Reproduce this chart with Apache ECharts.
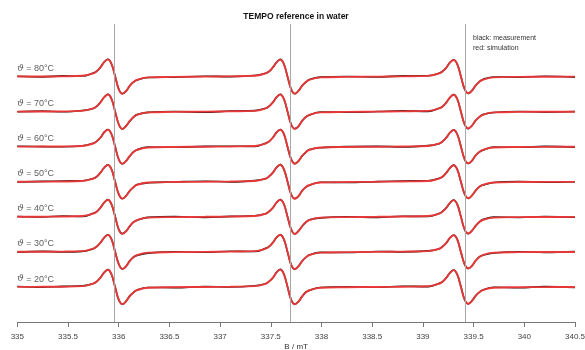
<!DOCTYPE html>
<html><head><meta charset="utf-8">
<script src="https://cdn.jsdelivr.net/npm/echarts@6/dist/echarts.min.js"></script>
<style>html,body{margin:0;padding:0;background:#fff}#c{width:585px;height:350px}</style>
</head><body><div id="c"></div>
<script>
// Magnetic field grid (mT)
const field = [
 335.0, 335.25, 335.45,
 335.641, 335.749, 335.785, 335.821, 335.857, 335.893, 335.929, 335.965, 336.001, 336.037, 336.073, 336.109, 336.145, 336.181, 336.289,
 336.55, 336.85, 337.1,
 337.341, 337.449, 337.485, 337.521, 337.557, 337.593, 337.629, 337.665, 337.701, 337.737, 337.773, 337.809, 337.845, 337.881, 337.989,
 338.25, 338.55, 338.8,
 339.051, 339.159, 339.195, 339.231, 339.267, 339.303, 339.339, 339.375, 339.411, 339.447, 339.483, 339.519, 339.555, 339.591, 339.699,
 339.95, 340.2, 340.5
];
const temperatures = [20, 30, 40, 50, 60, 70, 80];
const offsets = [0, 2, 4, 6, 8, 10, 12];
const refLines = [335.956, 337.691, 339.416];
const tickLabels = ['335','335.5','336','336.5','337','337.5','338','338.5','339','339.5','340','340.5'];

// simulations (red)
const sim20 = [0.004,0.008,0.015, 0.044,0.186,0.314,0.529,0.823,0.98,0.725,0,-0.725,-0.98,-0.823,-0.529,-0.314,-0.186,-0.044, -0.015,0,0.015,
 0.045,0.188,0.317,0.535,0.832,0.99,0.733,0,-0.733,-0.99,-0.832,-0.535,-0.317,-0.188,-0.045, -0.015,0,0.015,
 0.043,0.182,0.307,0.518,0.806,0.96,0.71,0,-0.71,-0.96,-0.806,-0.518,-0.307,-0.182,-0.043, -0.015,-0.008,-0.004];
const sim30 = [0.004,0.008,0.015, 0.044,0.184,0.31,0.524,0.815,0.97,0.718,0,-0.718,-0.97,-0.815,-0.524,-0.31,-0.184,-0.044, -0.015,0,0.015,
 0.044,0.186,0.314,0.529,0.823,0.98,0.725,0,-0.725,-0.98,-0.823,-0.529,-0.314,-0.186,-0.044, -0.015,0,0.015,
 0.043,0.18,0.304,0.513,0.798,0.95,0.703,0,-0.703,-0.95,-0.798,-0.513,-0.304,-0.18,-0.043, -0.015,-0.008,-0.004];
const sim40 = [0.004,0.008,0.015, 0.044,0.184,0.31,0.524,0.815,0.97,0.718,0,-0.718,-0.97,-0.815,-0.524,-0.31,-0.184,-0.044, -0.015,0,0.015,
 0.044,0.184,0.31,0.524,0.815,0.97,0.718,0,-0.718,-0.97,-0.815,-0.524,-0.31,-0.184,-0.044, -0.015,0,0.015,
 0.043,0.18,0.304,0.513,0.798,0.95,0.703,0,-0.703,-0.95,-0.798,-0.513,-0.304,-0.18,-0.043, -0.015,-0.008,-0.004];
const sim50 = [0.004,0.008,0.015, 0.043,0.182,0.307,0.518,0.806,0.96,0.71,0,-0.71,-0.96,-0.806,-0.518,-0.307,-0.182,-0.043, -0.015,0,0.015,
 0.044,0.184,0.31,0.524,0.815,0.97,0.718,0,-0.718,-0.97,-0.815,-0.524,-0.31,-0.184,-0.044, -0.015,0,0.015,
 0.042,0.179,0.301,0.508,0.79,0.94,0.696,0,-0.696,-0.94,-0.79,-0.508,-0.301,-0.179,-0.042, -0.015,-0.008,-0.004];
const sim60 = [0.004,0.008,0.015, 0.044,0.184,0.31,0.524,0.815,0.97,0.718,0,-0.718,-0.97,-0.815,-0.524,-0.31,-0.184,-0.044, -0.015,0,0.015,
 0.044,0.184,0.31,0.524,0.815,0.97,0.718,0,-0.718,-0.97,-0.815,-0.524,-0.31,-0.184,-0.044, -0.015,0,0.015,
 0.043,0.18,0.304,0.513,0.798,0.95,0.703,0,-0.703,-0.95,-0.798,-0.513,-0.304,-0.18,-0.043, -0.015,-0.008,-0.004];
const sim70 = [0.004,0.008,0.015, 0.044,0.186,0.314,0.529,0.823,0.98,0.725,0,-0.725,-0.98,-0.823,-0.529,-0.314,-0.186,-0.044, -0.015,0,0.015,
 0.044,0.186,0.314,0.529,0.823,0.98,0.725,0,-0.725,-0.98,-0.823,-0.529,-0.314,-0.186,-0.044, -0.015,0,0.015,
 0.043,0.182,0.307,0.518,0.806,0.96,0.71,0,-0.71,-0.96,-0.806,-0.518,-0.307,-0.182,-0.043, -0.015,-0.008,-0.004];
const sim80 = [0.004,0.008,0.015, 0.044,0.186,0.314,0.529,0.823,0.98,0.725,0,-0.725,-0.98,-0.823,-0.529,-0.314,-0.186,-0.044, -0.015,0,0.015,
 0.044,0.184,0.31,0.524,0.815,0.97,0.718,0,-0.718,-0.97,-0.815,-0.524,-0.31,-0.184,-0.044, -0.015,0,0.015,
 0.043,0.18,0.304,0.513,0.798,0.95,0.703,0,-0.703,-0.95,-0.798,-0.513,-0.304,-0.18,-0.043, -0.015,-0.008,-0.004];

// measurements (black)
const meas20 = [0.025,-0.015,0.035, 0.06,0.20,0.32,0.54,0.83,0.99,0.71,-0.02,-0.74,-0.99,-0.81,-0.51,-0.32,-0.17,-0.03, -0.04,0.02,-0.005,
 0.065,0.18,0.33,0.53,0.84,1.00,0.74,0.01,-0.74,-0.98,-0.84,-0.55,-0.30,-0.20,-0.03, 0.01,-0.02,0.04,
 0.02,0.20,0.30,0.53,0.81,0.97,0.70,0.02,-0.72,-0.97,-0.79,-0.51,-0.31,-0.17,-0.02, -0.045,0.02,-0.03];
const meas30 = [-0.02,0.03,0.0, 0.03,0.18,0.32,0.53,0.81,0.98,0.73,0.01,-0.70,-0.98,-0.83,-0.51,-0.30,-0.20,-0.07, 0.005,-0.025,0.04,
 0.02,0.20,0.31,0.54,0.83,0.97,0.71,-0.01,-0.74,-0.99,-0.81,-0.53,-0.32,-0.17,-0.03, -0.035,0.025,0.00,
 0.06,0.17,0.31,0.51,0.80,0.96,0.71,-0.02,-0.70,-0.94,-0.80,-0.51,-0.29,-0.19,-0.06, 0.01,-0.03,0.015];
const meas40 = [0.015,-0.01,0.04, 0.02,0.20,0.30,0.53,0.82,0.98,0.71,0.02,-0.73,-0.96,-0.82,-0.54,-0.30,-0.20,-0.03, 0.015,-0.03,0.025,
 0.06,0.17,0.32,0.52,0.82,0.98,0.73,0.00,-0.71,-0.98,-0.80,-0.54,-0.32,-0.17,-0.06, 0.005,-0.035,0.035,
 0.02,0.19,0.32,0.52,0.79,0.96,0.71,0.01,-0.72,-0.96,-0.79,-0.53,-0.30,-0.16,-0.02, -0.035,0.01,-0.025];
const meas50 = [-0.015,0.02,0.045, 0.06,0.19,0.30,0.53,0.80,0.97,0.72,-0.01,-0.72,-0.97,-0.80,-0.51,-0.32,-0.16,-0.06, -0.01,0.03,-0.005,
 0.065,0.17,0.32,0.53,0.82,0.98,0.71,0.02,-0.73,-0.96,-0.83,-0.51,-0.31,-0.20,-0.03, -0.045,0.01,0.045,
 0.055,0.20,0.29,0.52,0.78,0.95,0.70,-0.01,-0.70,-0.95,-0.78,-0.52,-0.29,-0.19,-0.04, 0.015,-0.025,0.005];
const meas60 = [0.025,0.005,-0.005, 0.05,0.20,0.32,0.52,0.83,0.98,0.71,0.01,-0.73,-0.98,-0.81,-0.54,-0.30,-0.17,-0.02, -0.035,0.02,0.025,
 0.02,0.20,0.30,0.53,0.82,0.98,0.73,-0.02,-0.71,-0.97,-0.82,-0.53,-0.32,-0.16,-0.06, 0.005,0.02,-0.015,
 0.06,0.17,0.31,0.52,0.81,0.96,0.71,0.02,-0.71,-0.96,-0.81,-0.50,-0.31,-0.20,-0.02, -0.035,0.02,-0.03];
const meas70 = [-0.005,0.03,-0.005, 0.065,0.18,0.32,0.55,0.82,0.99,0.73,0.00,-0.73,-0.99,-0.81,-0.55,-0.31,-0.17,-0.04, 0.005,-0.035,0.035,
 0.06,0.20,0.32,0.53,0.83,0.99,0.72,0.01,-0.73,-0.97,-0.84,-0.53,-0.30,-0.20,-0.02, -0.035,0.005,0.045,
 0.015,0.19,0.30,0.53,0.81,0.97,0.72,-0.01,-0.72,-0.97,-0.80,-0.52,-0.32,-0.17,-0.05, 0.005,-0.025,0.01];
const meas80 = [0.02,-0.015,0.04, 0.03,0.20,0.31,0.55,0.83,0.99,0.72,0.02,-0.72,-0.97,-0.84,-0.52,-0.32,-0.20,-0.05, -0.035,0.02,0.00,
 0.065,0.19,0.30,0.53,0.82,0.98,0.72,-0.01,-0.73,-0.98,-0.81,-0.51,-0.32,-0.17,-0.03, 0.005,-0.02,0.04,
 0.05,0.19,0.31,0.51,0.81,0.96,0.71,0.01,-0.71,-0.96,-0.81,-0.52,-0.30,-0.16,-0.02, -0.035,0.02,-0.03];

const sims = [sim20, sim30, sim40, sim50, sim60, sim70, sim80];
const meas = [meas20, meas30, meas40, meas50, meas60, meas70, meas80];

const chart = echarts.init(document.getElementById('c'), null, {renderer: 'canvas'});
const FONT = 'Liberation Sans, Arial, Helvetica, sans-serif';
const series = [];
temperatures.forEach((t, i) => {
  series.push({
    type: 'line', name: 'meas' + t, smooth: 0.4, symbol: 'none', silent: true,
    lineStyle: {color: '#1a1a1a', width: 1.6},
    data: field.map((b, j) => [b, meas[i][j] + offsets[i]]),
    z: 2
  });
});
temperatures.forEach((t, i) => {
  series.push({
    type: 'line', name: 'sim' + t, smooth: 0.4, symbol: 'none', silent: true,
    lineStyle: {color: '#f03838', width: 1.9, opacity: 0.95},
    data: field.map((b, j) => [b, sims[i][j] + offsets[i]]),
    z: 3
  });
});
series.push({
  type: 'scatter', symbolSize: 0, silent: true,
  data: temperatures.map((t, i) => ({value: [335, offsets[i] + 0.45], name: String(t)})),
  label: {
    show: true, position: 'right', distance: 0,
    formatter: p => '{i|ϑ} = ' + p.name + '°C',
    color: '#333', fontSize: 9, fontFamily: FONT,
    rich: {i: {fontStyle: 'italic', fontSize: 9, color: '#333', fontFamily: 'DejaVu Serif, serif'}}
  },
  markLine: {
    silent: true, symbol: 'none', label: {show: false},
    lineStyle: {color: '#a8a8a8', width: 1, type: 'solid'},
    data: refLines.map(v => ({xAxis: v}))
  },
  z: 1
});

chart.setOption({
  animation: false,
  backgroundColor: '#fff',
  title: [
    {text: 'TEMPO reference in water', left: 296, top: 12.5, textAlign: 'center', padding: 0,
     textStyle: {fontSize: 8.5, fontWeight: 'bold', color: '#111', fontFamily: FONT}},
    {text: 'black: measurement\nred: simulation', left: 473, top: 33, padding: 0,
     textStyle: {fontSize: 7, fontWeight: 'normal', color: '#333', lineHeight: 10, fontFamily: FONT}}
  ],
  grid: {left: 17.3, right: 10, top: 24, bottom: 28, outerBoundsMode: 'none', containLabel: false},
  xAxis: {
    type: 'value', min: 335, max: 340.5, interval: 0.5,
    name: 'B / mT', nameLocation: 'middle', nameGap: 21, nameMoveOverlap: false,
    nameTextStyle: {fontSize: 8, color: '#333', fontFamily: FONT, verticalAlign: 'top'},
    axisLine: {onZero: false, lineStyle: {color: '#777', width: 1}},
    axisTick: {length: 5, lineStyle: {color: '#777'}},
    axisLabel: {fontSize: 8, color: '#444', margin: 11, fontFamily: FONT,
      formatter: v => tickLabels[Math.round((v - 335) / 0.5)] ?? ''},
    splitLine: {show: false}
  },
  yAxis: {type: 'value', min: -2, max: 15, show: false, splitLine: {show: false}},
  series: series
});
</script>
</body></html>
